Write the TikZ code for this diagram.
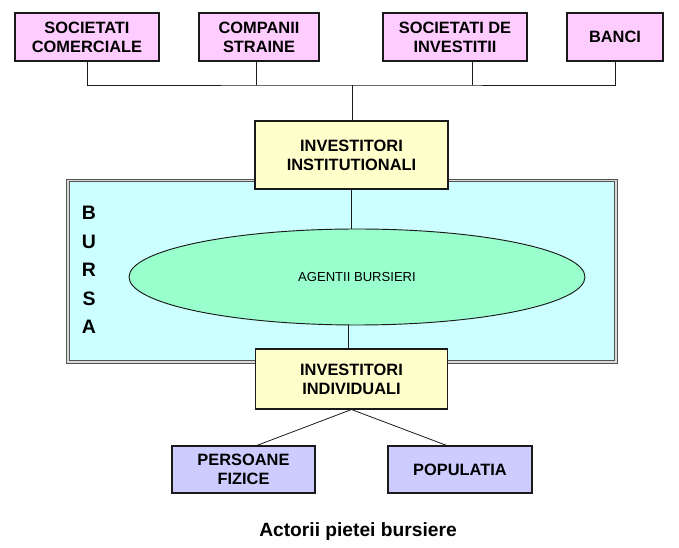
\documentclass[tikz,border=0pt]{standalone}
\usepackage{fontspec}
\setmainfont{Liberation Sans}
\usepackage{tikz}
\usetikzlibrary{shapes.geometric, positioning, calc}
\definecolor{bspink}{HTML}{FFCCFF}
\definecolor{bsyellow}{HTML}{FFFFCC}
\definecolor{bscyan}{HTML}{CCFFFF}
\definecolor{bsmint}{HTML}{99FFCC}
\definecolor{bslilac}{HTML}{CCCCFF}
\definecolor{bsline}{HTML}{1A1A1A}

\begin{document}
\begin{tikzpicture}[x=0.75pt, y=-0.75pt,
    actor/.style={rectangle, draw=bsline, line width=0.8pt, fill=#1, align=center, inner sep=0pt, font=\bfseries\fontsize{12.3}{14.3}\selectfont},
    link/.style={draw=bsline, line width=0.6pt},
]
\useasboundingbox (0,0) rectangle (679,548);

% bursa frame and agents
\node[rectangle, draw=bsline!75, double=gray!30, double distance=1pt, line width=0.75pt, fill=bscyan, minimum width=411pt, minimum height=136pt] (bursa) at (342,271.5) {};
\node[align=center, font=\bfseries\fontsize{14.6}{21.4}\selectfont] (bursaLabel) at (89,270) {B\\U\\R\\S\\A};
\node[ellipse, draw=bsline, line width=0.7pt, fill=bsmint, inner sep=0pt, minimum width=342pt, minimum height=72pt, font=\fontsize{9.8}{12}\selectfont] (agentii) at (357,277) {AGENTII BURSIERI};

% top level
\node[actor=bspink, minimum width=108pt, minimum height=36pt] (sc) at (87,37) {SOCIETATI\\COMERCIALE};
\node[actor=bspink, minimum width=90pt, minimum height=36pt] (cs) at (259,37) {COMPANII\\STRAINE};
\node[actor=bspink, minimum width=108pt, minimum height=36pt] (sdi) at (455,37) {SOCIETATI DE\\INVESTITII};
\node[actor=bspink, minimum width=72pt, minimum height=36pt] (banci) at (615,37) {BANCI};

% investors
\node[actor=bsyellow, minimum width=144.75pt, minimum height=51pt] (inst) at (351.5,155) {INVESTITORI\\INSTITUTIONALI};
\node[actor=bsyellow, minimum width=144pt, minimum height=45pt] (indiv) at (351.5,379) {INVESTITORI\\INDIVIDUALI};
\node[actor=bslilac, minimum width=107.25pt, minimum height=35.25pt] (pf) at (243.5,469.5) {PERSOANE\\FIZICE};
\node[actor=bslilac, minimum width=108pt, minimum height=35.25pt] (pop) at (460,469.5) {POPULATIA};

\node[font=\bfseries\fontsize{14.4}{17}\selectfont, anchor=base] (caption) at (358,536.5) {Actorii pietei bursiere};

% connectors
\coordinate (hub) at (352,85);
\draw[link] (sc.south) |- (hub) -| (banci.south);
\draw[link] ([xshift=-2.25pt]cs.south) -- ([xshift=-2.25pt]cs.south |- hub);
\draw[link] ([xshift=12.75pt]sdi.south) -- ([xshift=12.75pt]sdi.south |- hub);
\draw[link] (hub) -- (hub |- inst.north);
\draw[link] (inst.south) -- (inst.south |- agentii.north);
\draw[link] ([xshift=-2pt]indiv.north |- agentii.south) -- ([xshift=-2pt]indiv.north);
\draw[link] (indiv.south) -- ([xshift=10pt]pf.north);
\draw[link] (indiv.south) -- ([xshift=-10pt]pop.north);
\end{tikzpicture}
\end{document}
